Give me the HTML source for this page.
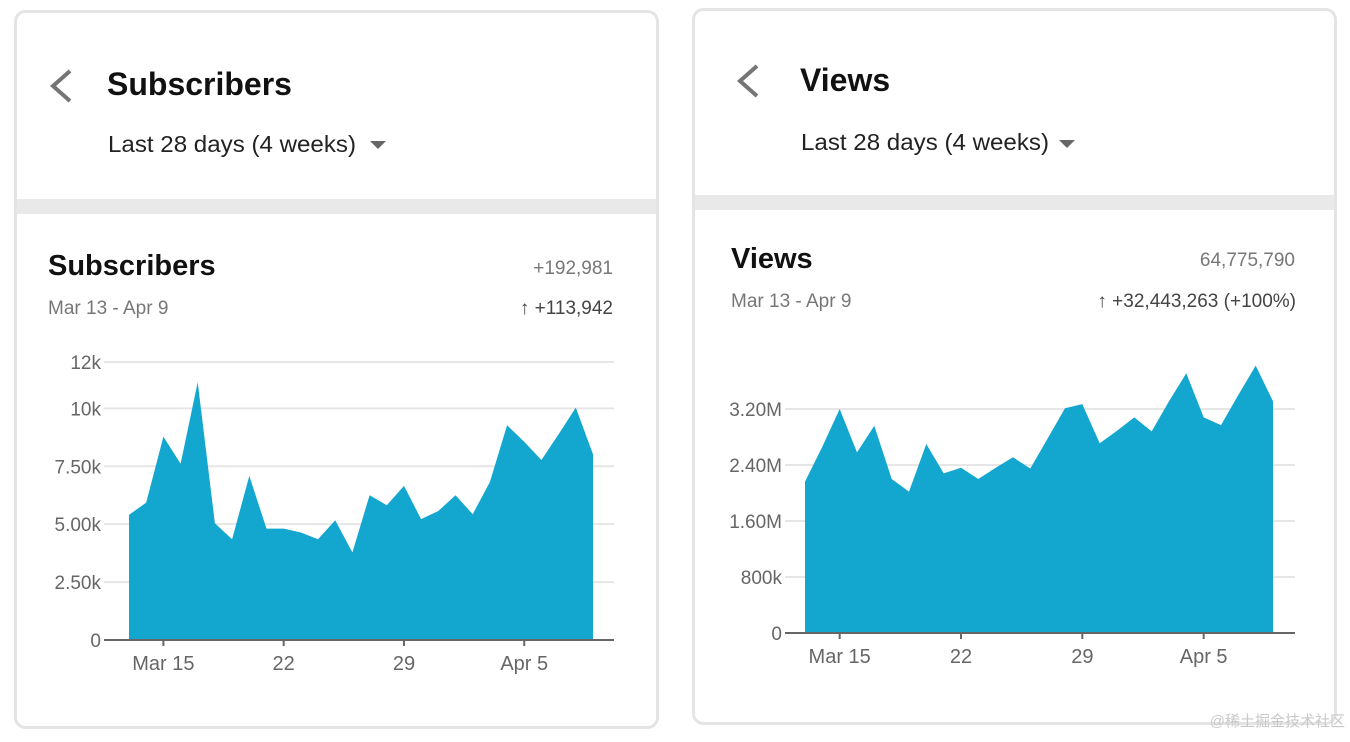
<!DOCTYPE html>
<html><head><meta charset="utf-8">
<style>
body{margin:0;width:1350px;height:737px;background:#fff;overflow:hidden;font-family:"Liberation Sans",Arial,sans-serif;}
svg text{font-family:"Liberation Sans",Arial,sans-serif;}
</style></head>
<body>
<svg id="s" width="1350" height="737">
  <g>
    <rect x="15.5" y="11.5" width="642" height="716" rx="10" fill="#fff" stroke="#e4e4e4" stroke-width="3"/>
    <rect x="17" y="199" width="639" height="15" fill="#e9e9ea"/>
    <path d="M70 71 L53 86 L70 101" fill="none" stroke="#757575" stroke-width="4"/>
    <text x="107" y="95" font-size="32" font-weight="bold" fill="#111">Subscribers</text>
    <g>
      <text x="108" y="152" font-size="23" textLength="248" lengthAdjust="spacingAndGlyphs" fill="#222">Last 28 days (4 weeks)</text>
      <path d="M370 141 L386 141 L378 149 Z" fill="#666"/>
    </g>
    <text x="48" y="275" font-size="29" font-weight="bold" fill="#111">Subscribers</text>
    <text x="613" y="274" font-size="19" fill="#777" text-anchor="end">+192,981</text>
    <text x="48" y="314" font-size="19" fill="#777">Mar 13 - Apr 9</text>
    <text x="613" y="314" font-size="19" fill="#444" text-anchor="end">↑ +113,942</text>
    <g id="chartL"></g>
  </g>
  <g>
    <rect x="693.5" y="9.5" width="642" height="714" rx="10" fill="#fff" stroke="#e4e4e4" stroke-width="3"/>
    <rect x="695" y="195" width="639" height="15" fill="#e9e9ea"/>
    <path d="M757 66 L740 81 L757 96" fill="none" stroke="#757575" stroke-width="4"/>
    <text x="800" y="91" font-size="32" font-weight="bold" fill="#111">Views</text>
    <g>
      <text x="801" y="150" font-size="23" textLength="248" lengthAdjust="spacingAndGlyphs" fill="#222">Last 28 days (4 weeks)</text>
      <path d="M1059 140 L1075 140 L1067 148 Z" fill="#666"/>
    </g>
    <text x="731" y="268" font-size="29" font-weight="bold" fill="#111">Views</text>
    <text x="1295" y="266" font-size="19" fill="#777" text-anchor="end">64,775,790</text>
    <text x="731" y="307" font-size="19" fill="#777">Mar 13 - Apr 9</text>
    <text x="1296" y="307" font-size="19" fill="#444" text-anchor="end">↑ +32,443,263 (+100%)</text>
    <g id="chartR"></g>
  </g>
  <text x="1345" y="726" font-size="15" fill="#c8c8c8" text-anchor="end" font-family="'Liberation Sans','Noto Sans CJK SC',sans-serif">@稀土掘金技术社区</text>
</svg>
<script>
const subsValues=[5.40,5.93,8.78,7.61,11.13,5.04,4.35,7.08,4.81,4.81,4.64,4.35,5.17,3.78,6.25,5.82,6.65,5.22,5.57,6.25,5.43,6.82,9.27,8.55,7.77,8.88,10.03,8.02];
const subsTicks=[0,2.5,5,7.5,10,12];
const subsTickLabels=["0","2.50k","5.00k","7.50k","10k","12k"];
const viewsValues=[2.16,2.66,3.20,2.58,2.96,2.20,2.02,2.70,2.28,2.36,2.20,2.36,2.51,2.35,2.78,3.21,3.27,2.71,2.89,3.08,2.88,3.31,3.71,3.08,2.97,3.40,3.82,3.31];
const viewsTicks=[0,0.8,1.6,2.4,3.2];
const viewsTickLabels=["0","800k","1.60M","2.40M","3.20M"];
const xTickIndex=[2,9,16,23];
const xTickLabels=["Mar 15","22","29","Apr 5"];
const NS="http://www.w3.org/2000/svg";
function mk(g,tag,attrs){const e=document.createElementNS(NS,tag);for(const k in attrs)e.setAttribute(k,attrs[k]);g.appendChild(e);return e;}
function draw(id,vals,ticks,labels,cfg){
  const g=document.getElementById(id);
  const x=i=>cfg.x0+(cfg.x1-cfg.x0)*i/(vals.length-1);
  const y=v=>cfg.y0-(cfg.y0-cfg.yTop)*v/cfg.vTop;
  ticks.forEach((t,i)=>{
    if(t>0){const l=mk(g,'line',{x1:cfg.gx0,x2:cfg.gx1,y1:y(t),y2:y(t),stroke:'#e6e6e6','stroke-width':2});
    
    }
    const tx=mk(g,'text',{x:cfg.lx,y:y(t)+7,'font-size':19,fill:'#666','text-anchor':'end'});
    tx.textContent=labels[i];
    
    
  });
  let d='M'+x(0)+' '+cfg.y0;
  vals.forEach((v,i)=>{d+=' L'+x(i).toFixed(1)+' '+y(v).toFixed(1);});
  d+=' L'+x(vals.length-1)+' '+cfg.y0+' Z';
  const a=mk(g,'path',{d:d,fill:'#13a6cf'});
  
  
  const ax=mk(g,'line',{x1:cfg.gx0,x2:cfg.gx1,y1:cfg.y0,y2:cfg.y0,stroke:'#666','stroke-width':2});
  
  
  xTickIndex.forEach((ti,i)=>{
    const tk=mk(g,'line',{x1:x(ti),x2:x(ti),y1:cfg.y0,y2:cfg.y0+6,stroke:'#666','stroke-width':2});
    
    
    const tx=mk(g,'text',{x:x(ti),y:cfg.y0+30,'font-size':20,fill:'#666','text-anchor':'middle'});
    tx.textContent=xTickLabels[i];
    
    
  });
}
draw('chartL',subsValues,subsTicks,subsTickLabels,{x0:129,x1:593,y0:640,yTop:362,vTop:12,gx0:104,gx1:614,lx:101});
draw('chartR',viewsValues,viewsTicks,viewsTickLabels,{x0:805,x1:1273,y0:633,yTop:409,vTop:3.2,gx0:785,gx1:1295,lx:782});
</script>
</body></html>
